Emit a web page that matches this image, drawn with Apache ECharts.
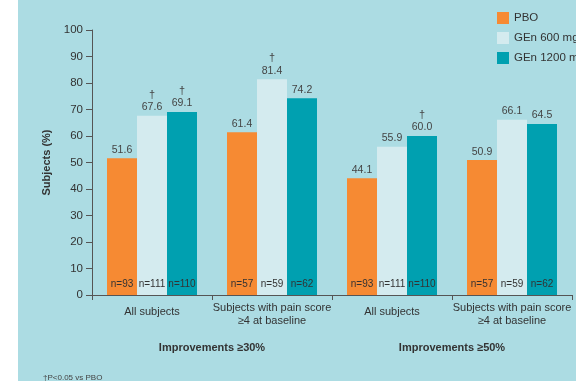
<!DOCTYPE html>
<html><head><meta charset="utf-8">
<script src="https://cdn.jsdelivr.net/npm/echarts@6/dist/echarts.min.js"></script>
<style>html,body{margin:0;padding:0;background:#fff}#c{width:576px;height:381px}</style>
</head><body><div id="c"></div>
<script>
const categories = ['All subjects', 'Subjects with pain score\n≥4 at baseline', 'All subjects', 'Subjects with pain score\n≥4 at baseline'];
const groupLabels = ['Improvements ≥30%', 'Improvements ≥50%'];
const seriesNames = ['PBO', 'GEn 600 mg', 'GEn 1200 mg'];
const pbo = [51.6, 61.4, 44.1, 50.9];
const gen600 = [67.6, 81.4, 55.9, 66.1];
const gen1200 = [69.1, 74.2, 60.0, 64.5];
const nPbo = [93, 57, 93, 57];
const n600 = [111, 59, 111, 59];
const n1200 = [110, 62, 110, 62];
const dagPbo = [false, false, false, false];
const dag600 = [true, true, false, false];
const dag1200 = [true, false, true, false];
const yTicks = [0, 10, 20, 30, 40, 50, 60, 70, 80, 90, 100];
const colors = ['#F68A33', '#D4EBEF', '#00A0B0'];

const FONT = 'Liberation Sans';
const values = [pbo, gen600, gen1200];
const ns = [nPbo, n600, n1200];
const dags = [dagPbo, dag600, dag1200];

const series = [];
seriesNames.forEach((name, i) => {
  series.push({
    name, type: 'bar', stack: 's' + i, barWidth: 30, barGap: 0,
    itemStyle: { color: colors[i] },
    data: values[i],
    label: {
      show: true, position: 'insideBottom', distance: 6,
      fontFamily: FONT, fontSize: 10, color: '#333',
      formatter: p => 'n=' + ns[i][p.dataIndex]
    },
    z: 2
  });
  series.push({
    name, type: 'bar', stack: 's' + i, barWidth: 30, barGap: 0,
    itemStyle: { color: colors[i] },
    data: values[i].map(() => 0),
    label: {
      show: true, position: 'top', distance: 2,
      fontFamily: FONT, color: '#444',
      formatter: p => {
        const v = values[i][p.dataIndex].toFixed(1);
        return dags[i][p.dataIndex] ? '{d|†}\n{v|' + v + '}' : '{v|' + v + '}';
      },
      rich: {
        d: { fontFamily: FONT, fontSize: 11, color: '#444', lineHeight: 12, align: 'center' },
        v: { fontFamily: FONT, fontSize: 10.5, color: '#444', lineHeight: 13, align: 'center' }
      }
    },
    z: 3
  });
});

const catData = categories.map(c => c.includes('\n')
  ? { value: c, textStyle: { padding: [-3, 0, 0, 0] } }
  : { value: c, textStyle: { padding: [1, 0, 0, 0] } });

const chart = echarts.init(document.getElementById('c'));
chart.setOption({
  animation: false,
  backgroundColor: '#fff',
  graphic: [
    { type: 'rect', shape: { x: 18, y: 0, width: 558, height: 381 }, style: { fill: '#ACDCE3' }, z: -10 },
    { type: 'text', left: 43, top: 374, style: { text: '†P<0.05 vs PBO', fontFamily: FONT, fontSize: 8, fill: '#444' } }
  ],
  legend: {
    data: seriesNames, orient: 'vertical', left: 497, top: 12, padding: 0,
    itemWidth: 12, itemHeight: 12, itemGap: 8, icon: 'rect',
    textStyle: { fontFamily: FONT, fontSize: 11.5, color: '#333' }
  },
  grid: { left: 92, right: 4, top: 30, bottom: 86 },
  xAxis: [{
    type: 'category', data: catData, position: 'bottom',
    axisLine: { lineStyle: { color: '#555', width: 1 } },
    axisTick: { show: true, length: 5, interval: 0, lineStyle: { color: '#555' } },
    axisLabel: { fontFamily: FONT, fontSize: 11, color: '#333', margin: 9, lineHeight: 13, interval: 0 }
  }, {
    type: 'category', data: groupLabels, position: 'bottom', offset: 40,
    axisLine: { show: false }, axisTick: { show: false },
    axisLabel: { fontFamily: FONT, fontSize: 11, fontWeight: 'bold', color: '#333', margin: 7, interval: 0 }
  }],
  yAxis: {
    type: 'value', min: 0, max: 100, interval: 10,
    name: 'Subjects (%)', nameLocation: 'middle', nameGap: 40, nameRotate: 90,
    nameTextStyle: { fontFamily: FONT, fontSize: 11, fontWeight: 'bold', color: '#333' },
    axisLine: { show: true, lineStyle: { color: '#555' } },
    axisTick: { show: true, length: 6, lineStyle: { color: '#555' } },
    splitLine: { show: false },
    axisLabel: { fontFamily: FONT, fontSize: 11.5, color: '#333', margin: 9,
      formatter: v => yTicks.includes(v) ? String(v) : '' }
  },
  series
});
</script></body></html>
